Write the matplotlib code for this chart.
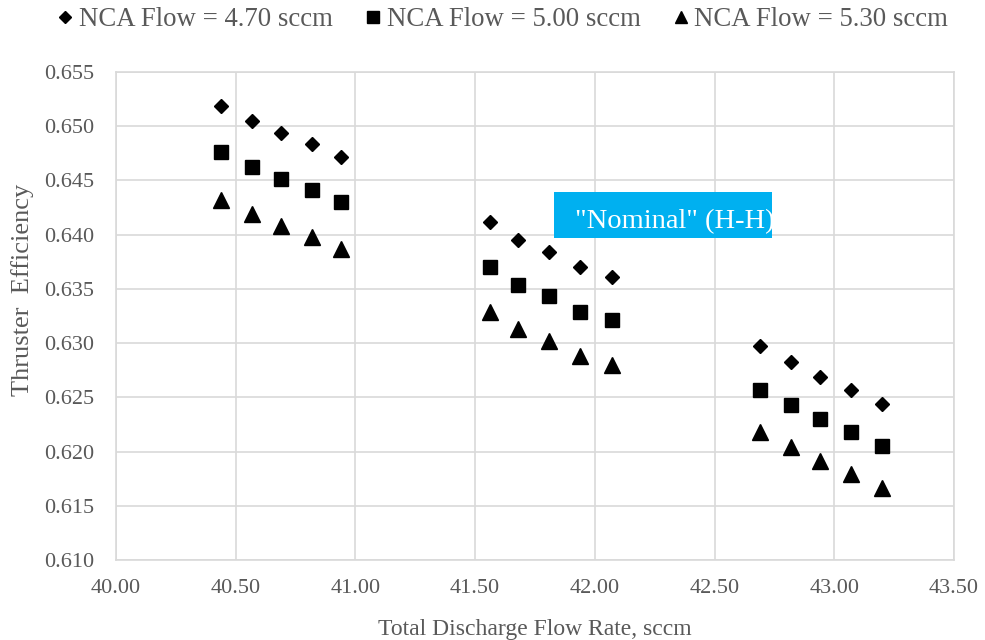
import matplotlib.pyplot as plt
from matplotlib.patches import Rectangle

# Thruster efficiency vs total discharge flow rate, three NCA flow settings
flow_low = [40.44, 40.57, 40.69, 40.82, 40.94]
flow_mid = [41.56, 41.68, 41.81, 41.94, 42.07]
flow_high = [42.69, 42.82, 42.94, 43.07, 43.20]

eff_470 = [0.6519, 0.6505, 0.6494, 0.6484, 0.6472,
           0.6412, 0.6395, 0.6384, 0.6370, 0.6361,
           0.6297, 0.6283, 0.6269, 0.6257, 0.6244]
eff_500 = [0.6476, 0.6462, 0.6451, 0.6441, 0.6430,
           0.6370, 0.6354, 0.6343, 0.6329, 0.6321,
           0.6257, 0.6243, 0.6230, 0.6218, 0.6205]
eff_530 = [0.6432, 0.6419, 0.6408, 0.6398, 0.6387,
           0.6329, 0.6313, 0.6302, 0.6288, 0.6280,
           0.6218, 0.6204, 0.6191, 0.6179, 0.6166]

series_labels = ["NCA Flow = 4.70 sccm", "NCA Flow = 5.00 sccm", "NCA Flow = 5.30 sccm"]
x_ticks = [40.0, 40.5, 41.0, 41.5, 42.0, 42.5, 43.0, 43.5]
y_ticks = [0.610, 0.615, 0.620, 0.625, 0.630, 0.635, 0.640, 0.645, 0.650, 0.655]
note_text = '"Nominal" (H-H)'

flows = flow_low + flow_mid + flow_high

plt.rcParams['font.family'] = ['Liberation Serif', 'DejaVu Serif']
grey = '#595959'

fig = plt.figure(figsize=(9.85, 6.4), dpi=100)
ax = fig.add_axes([0.1178, 0.125, 0.8507, 0.7625])

ax.plot(flows, eff_470, 'D', color='black', ms=7.5, label=series_labels[0])
ax.plot(flows, eff_500, 's', color='black', ms=10.5, label=series_labels[1])
ax.plot(flows, eff_530, '^', color='black', ms=11, label=series_labels[2])

ax.set_xlim(x_ticks[0], x_ticks[-1])
ax.set_ylim(y_ticks[0], y_ticks[-1])
ax.set_xticks(x_ticks)
ax.set_yticks(y_ticks)
ax.set_xticklabels([f"{v:.2f}" for v in x_ticks])
ax.set_yticklabels([f"{v:.3f}" for v in y_ticks])
ax.tick_params(length=0, labelsize=16, colors=grey)
ax.tick_params(axis='x', pad=14)
ax.tick_params(axis='y', pad=16)
ax.grid(True, color='#d9d9d9', lw=1.2)
ax.set_axisbelow(True)
for side in ['top', 'right', 'left', 'bottom']:
    ax.spines[side].set_color('#d9d9d9')
    ax.spines[side].set_linewidth(1.2)

ax.set_xlabel("Total Discharge Flow Rate, sccm", fontsize=17, color=grey, va='center')
ax.xaxis.set_label_coords(0.5, -0.1434)
ax.set_ylabel("Thruster  Efficiency", fontsize=19, color=grey, va='center')
ax.yaxis.set_label_coords(-0.1122, 0.553)

# cyan callout box, text runs past its right edge and gets clipped
box = Rectangle((41.831, 0.6397), 0.908, 0.0042, facecolor='#00b0f0',
                edgecolor='none', zorder=4)
ax.add_patch(box)
t = ax.text(41.917, 0.6412, note_text, fontsize=20.5, color='white',
            va='center', ha='left', zorder=5)
t.set_clip_path(box)

leg = fig.legend(loc='center', bbox_to_anchor=(0.511, 0.969), ncol=3,
                 frameon=False, fontsize=19.3, handlelength=0.5,
                 handletextpad=0.27, columnspacing=1.24, markerscale=0.8,
                 borderpad=0, borderaxespad=0)
for txt in leg.get_texts():
    txt.set_color(grey)

fig.savefig("out.png", dpi=100)
